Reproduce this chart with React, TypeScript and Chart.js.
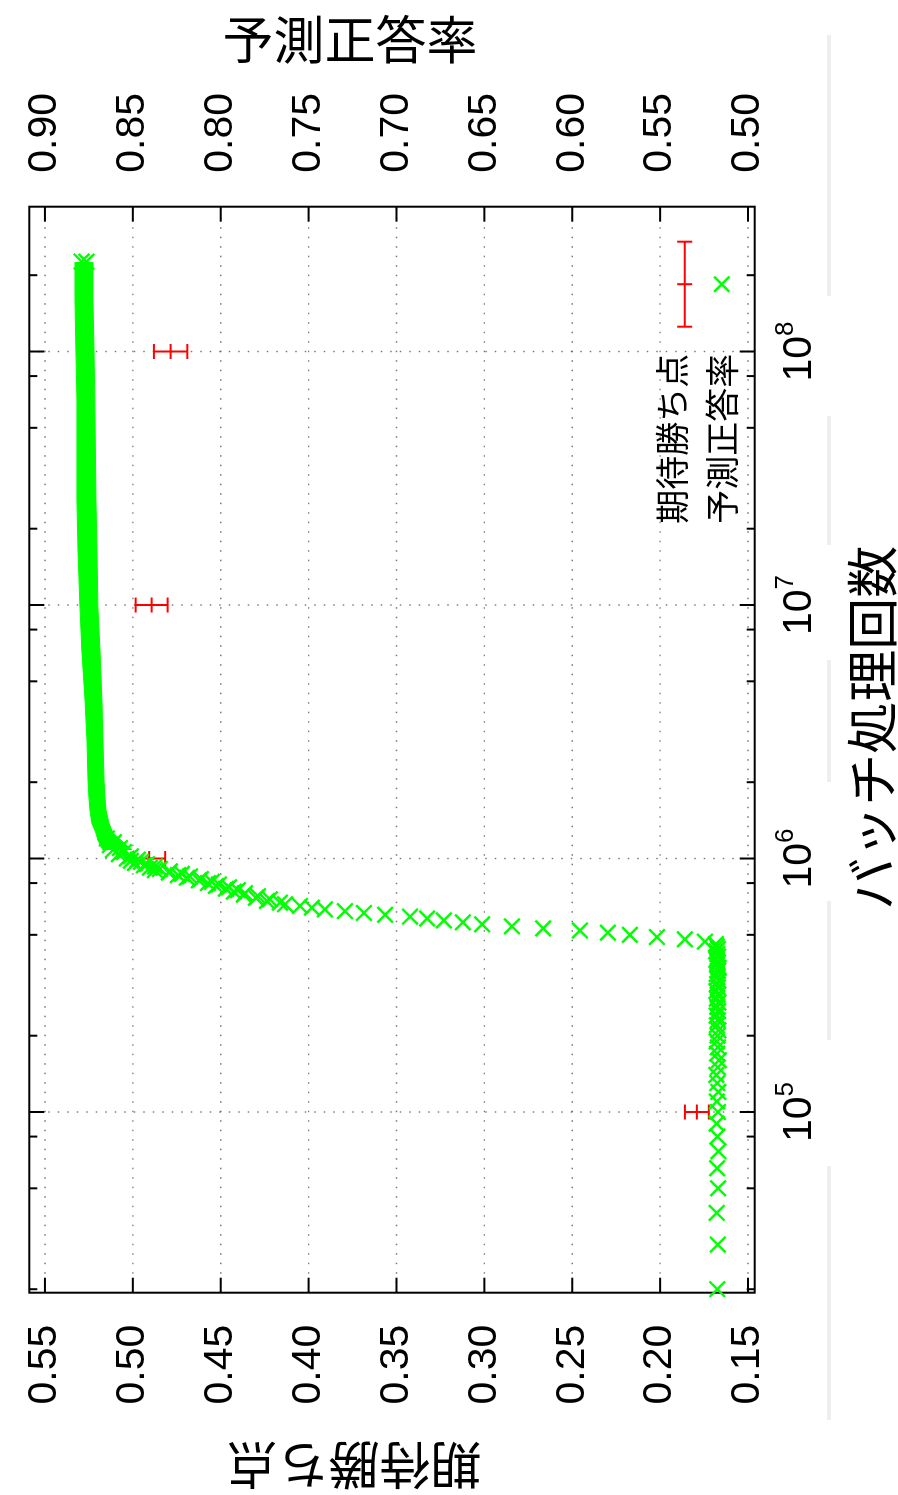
import React, { useEffect, useRef } from "react";
import { Chart, registerables } from "chart.js";

Chart.register(...registerables);

// ---------- data ----------
const xMajorTicks = [1e5, 1e6, 1e7, 1e8];
const xMajorExponents = ["5", "6", "7", "8"];
const xMinorTicks = [2e4, 5e4, 8e4, 2e5, 5e5, 8e5, 2e6, 5e6, 8e6, 2e7, 5e7, 8e7, 2e8];
const winTicks = [0.15, 0.2, 0.25, 0.3, 0.35, 0.4, 0.45, 0.5, 0.55];
const accTicks = [0.5, 0.55, 0.6, 0.65, 0.7, 0.75, 0.8, 0.85, 0.9];

const xTitle = "バッチ処理回数";
const yTitle = "期待勝ち点";
const y2Title = "予測正答率";
const winLabel = "期待勝ち点";
const accLabel = "予測正答率";

// 期待勝ち点 (with error bars)
const winBatches = [1e5, 1e6, 1e7, 1e8];
const winPoints = [0.1791, 0.4907, 0.4893, 0.4785];
const winErrors = [0.0068, 0.0091, 0.0091, 0.0095];

// 予測正答率 individual points (batch counts in units of 10,000)
const accBatches10k = [
  2, 3, 4, 5, 6, 7, 8, 9, 10, 11,
  12, 13, 14, 15, 16, 17, 18, 19, 20, 21,
  22, 23, 24, 25, 26, 27, 28, 29, 30, 31,
  32, 33, 34, 35, 36, 37, 38, 39, 40, 41,
  42, 43, 44, 45, 46,
  47, 48, 49, 50, 51, 52, 53, 54, 55, 56,
  57, 58, 59, 60, 61, 62, 63, 64, 65, 66,
  67, 68, 69, 70, 71, 72, 73, 74, 75, 76,
  77, 78, 79, 80, 81, 82, 83, 84, 85, 86,
  87, 88, 89, 90, 91, 92, 93, 94, 95, 96,
  97, 98, 99, 100,
  102, 104, 106, 108, 110, 113, 116, 120,
  22600, 22650,
];
const accRates = [
  0.5175, 0.5172, 0.5178, 0.517, 0.5176, 0.5168, 0.5174, 0.5179, 0.5171, 0.5177,
  0.5169, 0.5175, 0.518, 0.5172, 0.5166, 0.5176, 0.5171, 0.5178, 0.5173, 0.5168,
  0.5177, 0.5172, 0.5179, 0.517, 0.5175, 0.5168, 0.5177, 0.5173, 0.518, 0.5171,
  0.5176, 0.5169, 0.5174, 0.5179, 0.5172, 0.5167, 0.5176, 0.5173, 0.5178, 0.517,
  0.5175, 0.5181, 0.5172, 0.5177, 0.5183,
  0.5245, 0.5359, 0.5518, 0.5672, 0.5797, 0.5956, 0.6166, 0.6343, 0.6513, 0.6622,
  0.673, 0.6826, 0.6923, 0.7065, 0.7185, 0.7293, 0.7407, 0.7481, 0.7549, 0.7634,
  0.7663, 0.7737, 0.772, 0.78, 0.7788, 0.7868, 0.7862, 0.7925, 0.7902, 0.797,
  0.7953, 0.8027, 0.801, 0.8073, 0.805, 0.8124, 0.8113, 0.8192, 0.8175, 0.8243,
  0.8221, 0.8295, 0.8289, 0.8374, 0.8346, 0.8403, 0.8374, 0.8437, 0.842, 0.8488,
  0.8454, 0.8511, 0.8471, 0.8534,
  0.8511, 0.8579, 0.8551, 0.8613, 0.8573, 0.863, 0.8608, 0.8647,
  0.8764, 0.8792,
];

// 予測正答率 dense region: the band of overlapping points (upper / lower edge)
const bandBatches = [
  1080000, 1183000, 1261000, 1380000, 1554000, 1748000, 2040000, 2935000, 4220000,
  6645000, 9910000, 16480000, 25960000, 64370000, 101400000, 159700000, 225500000,
];
const bandUpper = [
  0.867, 0.8699, 0.871, 0.8733, 0.8744, 0.875, 0.8755, 0.8761, 0.8772,
  0.879, 0.8801, 0.8812, 0.8818, 0.8818, 0.8824, 0.8829, 0.8829,
];
const bandLower = [
  0.8505, 0.8568, 0.8613, 0.8636, 0.8653, 0.8659, 0.8664, 0.867, 0.8676,
  0.8687, 0.8699, 0.8704, 0.871, 0.8716, 0.8721, 0.8727, 0.8727,
];

// ---------- style ----------
const RED = "#ff0000";
const GREEN = "#00ff00";
const TICK_FONT = "'Liberation Sans', Arial, sans-serif";
const CJK_FONT = "'Noto Sans CJK JP', 'Noto Sans CJK SC', sans-serif";
const CANVAS_W = 1495;
const CANVAS_H = 898;

function line(ctx: CanvasRenderingContext2D, x1: number, y1: number, x2: number, y2: number) {
  ctx.beginPath();
  ctx.moveTo(x1, y1);
  ctx.lineTo(x2, y2);
  ctx.stroke();
}

const zeroPadding = (s: any) => {
  s.paddingTop = 0;
  s.paddingBottom = 0;
  s.paddingLeft = 0;
  s.paddingRight = 0;
};

const decorPlugin = {
  id: "decor",
  beforeDatasetsDraw(chart: any) {
    const { ctx, chartArea: a, scales } = chart;
    const xs = scales.x;
    const ys = scales.y;
    ctx.save();
    // dotted grid
    ctx.strokeStyle = "rgba(95,95,95,0.85)";
    ctx.lineWidth = 1.4;
    ctx.setLineDash([1.5, 8]);
    for (const v of winTicks) {
      const py = ys.getPixelForValue(v);
      line(ctx, a.left, py, a.right, py);
    }
    for (const v of xMajorTicks) {
      const px = xs.getPixelForValue(v);
      line(ctx, px, a.top, px, a.bottom);
    }
    ctx.setLineDash([]);
    // tick marks (inward, mirrored)
    ctx.strokeStyle = "#000";
    ctx.lineWidth = 2;
    for (const v of winTicks) {
      const py = ys.getPixelForValue(v);
      line(ctx, a.left, py, a.left + 15, py);
      line(ctx, a.right - 15, py, a.right, py);
    }
    for (const v of xMajorTicks) {
      const px = xs.getPixelForValue(v);
      line(ctx, px, a.bottom, px, a.bottom - 15);
      line(ctx, px, a.top, px, a.top + 15);
    }
    for (const v of xMinorTicks) {
      const px = xs.getPixelForValue(v);
      line(ctx, px, a.bottom, px, a.bottom - 8);
      line(ctx, px, a.top, px, a.top + 8);
    }
    // border
    ctx.strokeRect(a.left, a.top, a.right - a.left, a.bottom - a.top);
    // error bars
    ctx.strokeStyle = RED;
    ctx.lineWidth = 2;
    for (let i = 0; i < winBatches.length; i++) {
      const px = xs.getPixelForValue(winBatches[i]);
      const lo = ys.getPixelForValue(winPoints[i] - winErrors[i]);
      const hi = ys.getPixelForValue(winPoints[i] + winErrors[i]);
      line(ctx, px, lo, px, hi);
      line(ctx, px - 7.5, lo, px + 7.5, lo);
      line(ctx, px - 7.5, hi, px + 7.5, hi);
    }
    ctx.restore();
  },
  afterDraw(chart: any) {
    const { ctx, chartArea: a, scales } = chart;
    const xs = scales.x;
    ctx.save();
    ctx.fillStyle = "#000";
    // x tick labels 10^n
    ctx.textAlign = "left";
    ctx.textBaseline = "alphabetic";
    for (let i = 0; i < xMajorTicks.length; i++) {
      const px = xs.getPixelForValue(xMajorTicks[i]);
      ctx.font = `41px ${TICK_FONT}`;
      const w1 = ctx.measureText("10").width;
      ctx.font = `26px ${TICK_FONT}`;
      const w2 = ctx.measureText(xMajorExponents[i]).width;
      const start = px - (w1 + w2) / 2;
      ctx.font = `41px ${TICK_FONT}`;
      ctx.fillText("10", start, a.bottom + 56);
      ctx.font = `26px ${TICK_FONT}`;
      ctx.fillText(xMajorExponents[i], start + w1, a.bottom + 38.5);
    }
    // axis titles
    ctx.textAlign = "center";
    ctx.textBaseline = "middle";
    ctx.font = `52px ${CJK_FONT}`;
    ctx.fillText(xTitle, (a.left + a.right) / 2 + 22, a.bottom + 118);
    const midV = (a.top + a.bottom) / 2;
    ctx.font = `51px ${CJK_FONT}`;
    ctx.save();
    ctx.translate(a.left - 173, midV - 38);
    ctx.rotate(-Math.PI / 2);
    ctx.fillText(yTitle, 0, 0);
    ctx.restore();
    ctx.save();
    ctx.translate(a.right + 167, midV - 42);
    ctx.rotate(Math.PI / 2);
    ctx.fillText(y2Title, 0, 0);
    ctx.restore();
    // legend
    ctx.font = `34px ${CJK_FONT}`;
    ctx.textAlign = "right";
    ctx.fillText(winLabel, a.right - 147, a.bottom - 83);
    ctx.fillText(accLabel, a.right - 147, a.bottom - 33);
    const s0 = a.right - 120;
    const s1 = a.right - 35;
    const sm = (s0 + s1) / 2;
    const rv = a.bottom - 70;
    ctx.strokeStyle = RED;
    ctx.lineWidth = 2;
    line(ctx, s0, rv, s1, rv);
    line(ctx, s0, rv - 7.5, s0, rv + 7.5);
    line(ctx, s1, rv - 7.5, s1, rv + 7.5);
    line(ctx, sm, rv - 7.5, sm, rv + 7.5);
    const gv = a.bottom - 33;
    ctx.strokeStyle = GREEN;
    ctx.lineWidth = 2.4;
    line(ctx, sm - 7.6, gv - 7.6, sm + 7.6, gv + 7.6);
    line(ctx, sm - 7.6, gv + 7.6, sm + 7.6, gv - 7.6);
    // faint vertical rule of the original page
    ctx.strokeStyle = "#eeeeee";
    ctx.lineWidth = 4;
    const segs = [[35, 296], [416, 545], [660, 782], [901, 1040], [1166, 1420]];
    for (const [s, e] of segs) {
      line(ctx, CANVAS_W - e, 829, CANVAS_W - s, 829);
    }
    ctx.restore();
  },
};

export default function App() {
  const canvasRef = useRef<HTMLCanvasElement | null>(null);

  useEffect(() => {
    const canvas = canvasRef.current;
    if (!canvas) return;
    const accData = accBatches10k.map((n, i) => ({ x: n * 10000, y: accRates[i] }));
    const upperData = bandBatches.map((b, i) => ({ x: b, y: bandUpper[i] }));
    const lowerData = bandBatches.map((b, i) => ({ x: b, y: bandLower[i] }));
    const winData = winBatches.map((b, i) => ({ x: b, y: winPoints[i] }));

    const chart = new Chart(canvas, {
      type: "scatter",
      data: {
        datasets: [
          {
            label: accLabel,
            data: accData,
            yAxisID: "y2",
            pointStyle: "crossRot",
            pointRadius: 11,
            pointBorderWidth: 2.4,
            borderColor: GREEN,
            backgroundColor: GREEN,
            showLine: false,
            clip: false,
          } as any,
          {
            label: accLabel + " (upper)",
            data: upperData,
            yAxisID: "y2",
            showLine: true,
            pointRadius: 0,
            borderColor: GREEN,
            borderWidth: 1,
            backgroundColor: GREEN,
            fill: false,
            clip: false,
          } as any,
          {
            label: accLabel + " (lower)",
            data: lowerData,
            yAxisID: "y2",
            showLine: true,
            pointRadius: 0,
            borderColor: GREEN,
            borderWidth: 1,
            backgroundColor: GREEN,
            fill: "-1",
            clip: false,
          } as any,
          {
            label: winLabel,
            data: winData,
            yAxisID: "y",
            pointStyle: "line",
            pointRadius: 7.5,
            pointBorderWidth: 2,
            borderColor: RED,
            backgroundColor: RED,
            showLine: false,
            clip: false,
          } as any,
        ],
      },
      options: {
        responsive: false,
        animation: false,
        devicePixelRatio: 1,
        events: [],
        layout: { padding: { top: 29.3, left: 0, right: 0, bottom: 0 } },
        plugins: {
          legend: { display: false },
          title: { display: false },
          tooltip: { enabled: false },
        },
        scales: {
          x: {
            type: "logarithmic",
            position: "bottom",
            min: 19375,
            max: 3.726e8,
            ticks: { display: false },
            grid: { display: false },
            border: { display: false },
            afterBuildTicks: (s: any) => {
              s.ticks = xMajorTicks.map((v) => ({ value: v }));
            },
            afterFit: (s: any) => {
              s.height = 143.3;
              zeroPadding(s);
            },
          },
          y: {
            type: "linear",
            position: "left",
            min: 0.1462,
            max: 0.5589,
            ticks: {
              font: { family: TICK_FONT, size: 41 },
              color: "#000",
              padding: 24,
              autoSkip: false,
              callback: (v: any) => Number(v).toFixed(2),
            },
            grid: { display: false },
            border: { display: false },
            afterBuildTicks: (s: any) => {
              s.ticks = winTicks.map((v) => ({ value: v }));
            },
            afterFit: (s: any) => {
              s.width = 202.3;
              zeroPadding(s);
            },
          },
          y2: {
            type: "linear",
            position: "right",
            min: 0.4962,
            max: 0.9089,
            ticks: {
              font: { family: TICK_FONT, size: 41 },
              color: "#000",
              padding: 26,
              autoSkip: false,
              callback: (v: any) => Number(v).toFixed(2),
            },
            grid: { display: false },
            border: { display: false },
            afterBuildTicks: (s: any) => {
              s.ticks = accTicks.map((v) => ({ value: v }));
            },
            afterFit: (s: any) => {
              s.width = 206.7;
              zeroPadding(s);
            },
          },
        },
      } as any,
      plugins: [decorPlugin],
    });
    return () => {
      chart.destroy();
    };
  }, []);

  return (
    <div
      style={{
        position: "absolute",
        left: 0,
        top: 0,
        width: CANVAS_W,
        height: CANVAS_H,
        background: "#fff",
        transformOrigin: "0 0",
        transform: `translate(0px, ${CANVAS_W}px) rotate(-90deg)`,
      }}
    >
      <canvas
        ref={canvasRef}
        width={CANVAS_W}
        height={CANVAS_H}
        style={{ display: "block", width: CANVAS_W, height: CANVAS_H }}
      />
    </div>
  );
}
